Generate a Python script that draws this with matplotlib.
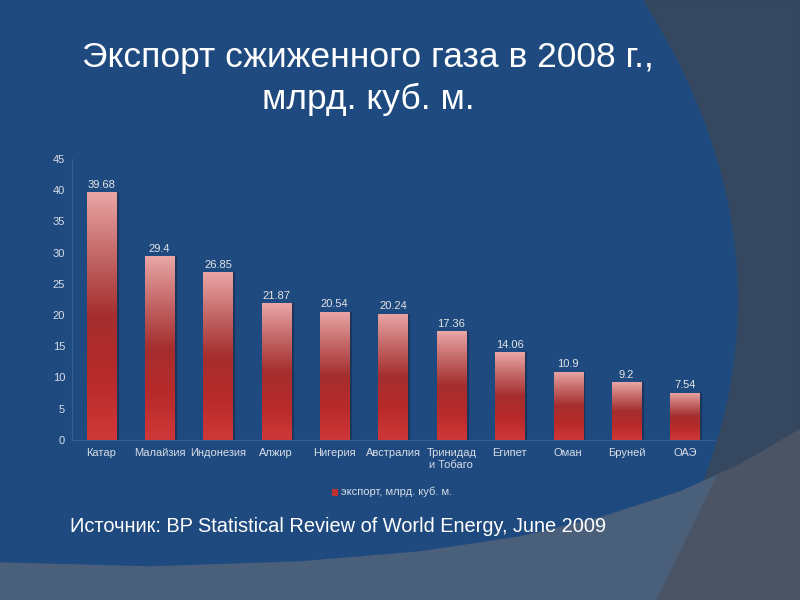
import numpy as np
import matplotlib.pyplot as plt
from matplotlib.patches import Polygon, Rectangle
import matplotlib.colors as mcolors

# данные
strany = ['Катар', 'Малайзия', 'Индонезия', 'Алжир', 'Нигерия', 'Австралия',
          'Тринидад\nи Тобаго', 'Египет', 'Оман', 'Бруней', 'ОАЭ']
eksport = [39.68, 29.4, 26.85, 21.87, 20.54, 20.24, 17.36, 14.06, 10.9, 9.2, 7.54]
metki = ['39.68', '29.4', '26.85', '21.87', '20.54', '20.24', '17.36', '14.06', '10.9', '9.2', '7.54']
y_ticks = [0, 5, 10, 15, 20, 25, 30, 35, 40, 45]

plt.rcParams['font.family'] = ['Liberation Sans', 'DejaVu Sans']

fig = plt.figure(figsize=(8, 6), dpi=100)
fig.patch.set_facecolor('#1f4a80')

# фон слайда (в пикселях фигуры)
bg = fig.add_axes([0, 0, 1, 1])
bg.set_xlim(0, 800)
bg.set_ylim(600, 0)
bg.axis('off')
bg.add_patch(Rectangle((0, 0), 800, 600, color='#1f4a80'))
# правая дуга
t = np.linspace(-1, 1, 60)
arc_x = 738 - 95 * t**2
arc_y = 300 + 300 * t
bg.add_patch(Polygon(np.column_stack([np.r_[arc_x, 800, 800], np.r_[arc_y, 600, 0]]),
                     color='#35485f', ec='#2a4a70', lw=0.8))
# нижняя полоса
lx = np.array([0, 150, 300, 420, 520, 600, 680, 740, 800])
ly = np.array([563, 567, 562, 552, 537, 518, 492, 465, 430])
bg.add_patch(Polygon(np.column_stack([np.r_[lx, 800, 0], np.r_[ly, 600, 600]]),
                     color='#4a5f7a'))
# нижний правый угол
xx = np.linspace(718, 800, 20)
yy = np.interp(xx, lx, ly)
corner_x = np.r_[xx, 800, 657]
corner_y = np.r_[yy, 600, 600]
bg.add_patch(Polygon(np.column_stack([corner_x, corner_y]), color='#4a5464'))

# заголовок
fig.text(0.46, 0.905, 'Экспорт сжиженного газа в 2008 г.,', color='white',
         fontsize=25.5, ha='center', va='center')
fig.text(0.46, 0.835, 'млрд. куб. м.', color='white',
         fontsize=25.5, ha='center', va='center')

ax = fig.add_axes([0.09, 0.267, 0.8025, 0.468])
ax.set_facecolor('none')
x = np.arange(len(strany))
bars = ax.bar(x, eksport, width=0.5, color='none', edgecolor='none')

cmap = mcolors.LinearSegmentedColormap.from_list(
    'grad', ['#d03838', '#b82a2a', '#a52e2e', '#c46868', '#eaa6a6'])
grad = np.linspace(0, 1, 256).reshape(-1, 1)
for b in bars:
    x0, w, h = b.get_x(), b.get_width(), b.get_height()
    im = ax.imshow(grad, cmap=cmap, origin='lower', aspect='auto',
                   extent=[x0, x0 + w, 0, h], zorder=2)
    im.set_clip_path(b)
    ax.add_patch(Rectangle((x0 + w, 0), 0.03, h, color='#1a2f50', alpha=0.6, zorder=1))

for xi, v, s in zip(x, eksport, metki):
    ax.text(xi, v + 0.4, s, ha='center', va='bottom', color='#e4e4e4', fontsize=8)

ax.set_xlim(-0.5, len(strany) - 0.5)
ax.set_ylim(0, 45)
ax.set_yticks(y_ticks)
ax.set_xticks(x)
ax.set_xticklabels(strany, fontsize=8, color='#d8dde6', linespacing=1.2)
ax.tick_params(axis='y', labelsize=8, labelcolor='#d8dde6', length=0, pad=5)
ax.tick_params(axis='x', length=0, pad=6)
for sp in ['top', 'right']:
    ax.spines[sp].set_visible(False)
ax.spines['left'].set_color('#3a5f90')
ax.spines['bottom'].set_color('#3a5f90')

# легенда
fig.patches.append(Rectangle((0.415, 0.173), 0.008, 0.012, transform=fig.transFigure,
                             facecolor='#c03030', edgecolor='none'))
fig.text(0.426, 0.180, 'экспорт, млрд. куб. м.', color='#d8dde6', fontsize=8,
         ha='left', va='center')

fig.text(0.087, 0.122, 'Источник: BP Statistical Review of World Energy, June 2009',
         color='white', fontsize=14.4, ha='left', va='center')

fig.savefig('out.png', dpi=100)
